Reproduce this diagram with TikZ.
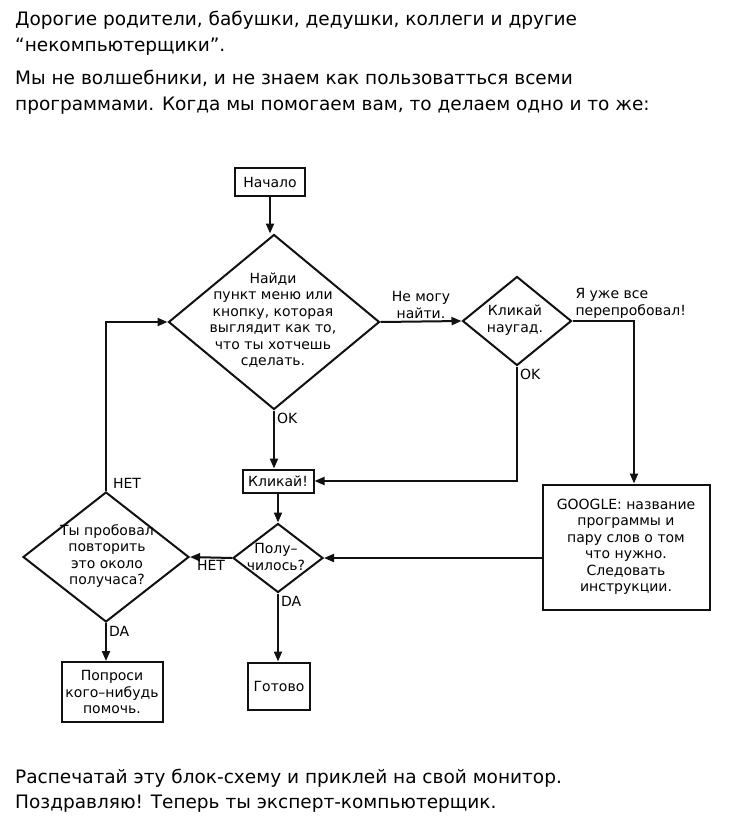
\documentclass[tikz,border=0pt]{standalone}
\usepackage{fontspec}
\setmainfont{DejaVu Sans}
\usepackage{xcolor}
\definecolor{Ink}{RGB}{17,17,17}
\usetikzlibrary{shapes.geometric}
\usetikzlibrary{arrows.meta}
\tikzstyle{Box}=[draw=Ink,line width=2pt,align=center,inner sep=2pt,
font=\fontsize{14}{16.5}\selectfont]
\tikzstyle{Decision}=[diamond,draw=Ink,line width=2pt,inner sep=0pt]
\tikzstyle{DecText}=[align=center,inner sep=0pt,font=\fontsize{14}{16.5}\selectfont]
\tikzstyle{Edge}=[draw=Ink,line width=2pt,-{Triangle[length=10pt,width=8pt]}]
\tikzstyle{EdgeLabel}=[font=\fontsize{14}{16.5}\selectfont,align=left,inner sep=2pt]
\tikzstyle{Caption}=[font=\fontsize{18.5}{27}\selectfont,anchor=base west,inner sep=0pt]

\begin{document}
\begin{tikzpicture}[x=1pt,y=-1pt]
            \useasboundingbox(0,0)rectangle(732,823);
            % header and footer
            \node[Caption](hdr1)at(15,25)
                {Дорогие родители, бабушки, дедушки, коллеги и другие};
            \node[Caption](hdr2)at(15,51){“некомпьютерщики”.};
            \node[Caption](hdr3)at(15,84)
                {Мы не волшебники, и не знаем как пользоватться всеми};
            \node[Caption](hdr4)at(15,110)
                {программами. Когда мы помогаем вам, то делаем одно и то же:};
            \node[Caption](ftr1)at(15,783)
                {Распечатай эту блок-схему и приклей на свой монитор.};
            \node[Caption](ftr2)at(15,808)
                {Поздравляю! Теперь ты эксперт-компьютерщик.};
            % boxes and decisions
            \node[Box,minimum width=70,minimum height=28](start)at(270,182)
                {Начало};
            \node[Decision,minimum width=211,minimum height=175](find)
                at(274,322){};
            \node[DecText](findtxt)at(273,320){Найди\\пункт меню или\\
                кнопку, которая\\выглядит как то,\\что ты хотчешь\\сделать.};
            \node[Decision,minimum width=109,minimum height=89](rand)
                at(517,321){};
            \node[DecText](randtxt)at(515,320){Кликай\\наугад.};
            \node[Box,minimum width=167,minimum height=125](google)
                at(626,547){GOOGLE: название\\программы и\\пару слов о том\\
                что нужно.\\Следовать\\инструкции.};
            \node[Box,minimum width=71,minimum height=23](click)at(278,481)
                {Кликай!};
            \node[Decision,minimum width=90,minimum height=69](ok)
                at(278,558){};
            \node[DecText](oktxt)at(276,557){Полу–\\чилось?};
            \node[Box,minimum width=62,minimum height=47](done)at(279,686)
                {Готово};
            \node[Decision,minimum width=166,minimum height=130](retry)
                at(106,557){};
            \node[DecText](retrytxt)at(107,556)
                {Ты пробовал\\повторить\\это около\\получаса?};
            \node[Box,minimum width=101,minimum height=60](ask)at(112,692)
                {Попроси\\кого–нибудь\\помочь.};
            % connectors
            \draw[Edge](start.south)--(start.south|-find.north);
            \draw[Edge](find.east)--node[EdgeLabel,above,align=center]
                {Не могу\\найти.}(rand.west);
            \draw[Edge](find.south)node[EdgeLabel,anchor=north west]{OK}
                --(find.south|-click.north);
            \draw[Edge](rand.south)node[EdgeLabel,anchor=north west]{OK}
                |-(click.east);
            \draw[Edge](rand.east)node[EdgeLabel,anchor=south west]
                {Я уже все\\перепробовал!}-|([xshift=8]google.north);
            \draw[Edge](click)--(ok);
            \draw[Edge](google.west|-ok.east)--(ok.east);
            \draw[Edge](ok.south)node[EdgeLabel,anchor=north west]{DA}
                --(ok.south|-done.north);
            \draw[Edge](ok.west)--node[EdgeLabel,below]{НЕТ}(retry.east);
            \draw[Edge](retry.north)node[EdgeLabel,anchor=south west,
                xshift=4]{НЕТ}|-(find.west);
            \draw[Edge](retry.south)node[EdgeLabel,anchor=north west]{DA}
                --(retry.south|-ask.north);
        \end{tikzpicture}
\end{document}
